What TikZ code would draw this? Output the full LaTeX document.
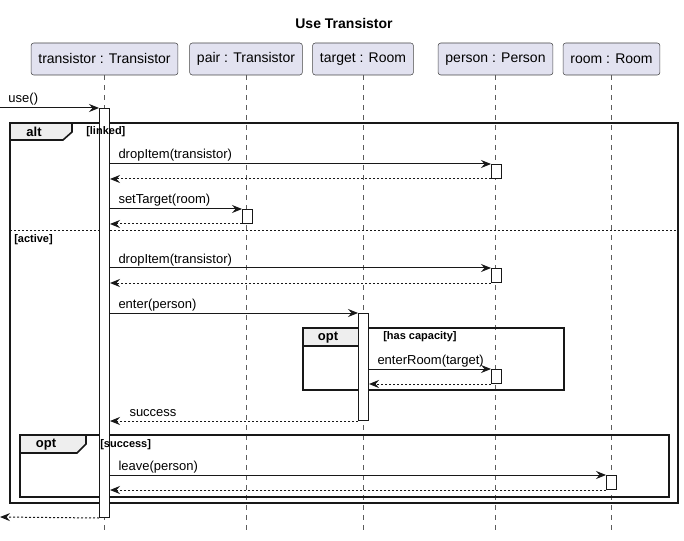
\documentclass[tikz,border=0pt]{standalone}
\usepackage{fontspec}
\setmainfont{Liberation Sans}
\usetikzlibrary{arrows.meta}
\definecolor{partfill}{HTML}{E2E2F0}
\definecolor{tabfill}{HTML}{EEEEEE}
\definecolor{ink}{HTML}{181818}

\begin{document}
\begin{tikzpicture}[x=0.75pt, y=-0.75pt, >={Stealth[length=7.5pt,width=6pt,inset=2.6pt]},
    part/.style={draw=ink!80, fill=partfill, rounded corners=2pt, minimum height=24pt, inner xsep=5.5pt, font=\fontsize{10.5}{12}\selectfont},
    lifeline/.style={draw=ink!70, line width=0.5pt, dash pattern=on 3.75pt off 3.75pt},
    act/.style={draw=ink, fill=white, line width=0.75pt, inner sep=0pt, minimum width=7.5pt, minimum height=10.5pt, anchor=north west},
    call/.style={->, draw=ink, line width=0.75pt},
    reply/.style={->, draw=ink, line width=0.75pt, dash pattern=on 1.5pt off 1.5pt},
    msg/.style={font=\fontsize{9.75}{11}\selectfont, anchor=base west, inner sep=0pt, yshift=3.75pt},
    frame/.style={draw=ink, line width=1.2pt},
    tab/.style={draw=ink, fill=tabfill, line width=1.2pt},
    divider/.style={draw=ink, line width=0.75pt, dash pattern=on 1.5pt off 1.5pt},
    tablabel/.style={font=\bfseries\fontsize{9.75}{11}\selectfont, inner sep=0pt},
    guard/.style={font=\bfseries\fontsize{8.25}{10}\selectfont, anchor=west, inner sep=0pt}]
    \useasboundingbox (0,0) rectangle (684,541);
    \node[font=\bfseries\fontsize{10.5}{12}\selectfont] (title) at (344,24) {Use Transistor};
    \node[part] (tr) at (104.5,59) {transistor : Transistor};
    \node[part] (pa) at (246,59) {pair : Transistor};
    \node[part] (tg) at (363,59) {target : Room};
    \node[part] (pe) at (495.5,59) {person : Person};
    \node[part] (ro) at (611.5,59) {room : Room};
    \foreach \p in {tr,pa,tg,pe,ro}
        \draw[lifeline] (\p.south) -- (\p.south |- 0,530);
    \draw[frame] (10,123) rectangle (678,503);
    \filldraw[tab] (10,123) -- (72,123) -- (72,132) -- (63,140) -- (10,140) -- cycle;
    \node[tablabel] (alt) at (34,132) {alt};
    \draw[divider] (10,231) -- (678,231);
    \draw[frame] (303,328) rectangle (564,390);
    \filldraw[tab] (303,328) -- (368,328) -- (368,337) -- (359,346) -- (303,346) -- cycle;
    \node[tablabel] (opt1) at (328,338) {opt};
    \draw[frame] (20,435) rectangle (669,497);
    \filldraw[tab] (20,435) -- (86,435) -- (86,444) -- (77,453) -- (20,453) -- cycle;
    \node[tablabel] (opt2) at (46,445) {opt};
    \node[act, minimum height=306.75pt] (trA) at (99,108) {};
    \node[act, minimum height=80.25pt] (tgA) at (358,313) {};
    \node[act] (pe1) at (491,164) {};
    \node[act] (pa1) at (242,209) {};
    \node[act] (pe2) at (491,268) {};
    \node[act] (pe3) at (491,369) {};
    \node[act] (ro1) at (606,475) {};
    \node[guard] (linked) at (86,132) {[linked]};
    \node[guard] (active) at (14,240) {[active]};
    \node[guard] (capacity) at (383,337) {[has capacity]};
    \node[guard] (success) at (100,445) {[success]};
    \coordinate (in) at (0,108);
    \coordinate (out) at (0,517);
    \draw[call] (in) -- (trA.north west) node[msg, pos=0, xshift=6pt] {use()};
    \draw[call] (trA.east |- pe1.north west) -- (pe1.north west) node[msg, pos=0, xshift=6pt] {dropItem(transistor)};
    \draw[reply] (pe1.south west) -- (trA.east |- pe1.south west);
    \draw[call] (trA.east |- pa1.north west) -- (pa1.north west) node[msg, pos=0, xshift=6pt] {setTarget(room)};
    \draw[reply] (pa1.south west) -- (trA.east |- pa1.south west);
    \draw[call] (trA.east |- pe2.north west) -- (pe2.north west) node[msg, pos=0, xshift=6pt] {dropItem(transistor)};
    \draw[reply] (pe2.south west) -- (trA.east |- pe2.south west);
    \draw[call] (trA.east |- tgA.north west) -- (tgA.north west) node[msg, pos=0, xshift=6pt] {enter(person)};
    \draw[call] (tgA.east |- pe3.north west) -- (pe3.north west) node[msg, pos=0, xshift=6pt] {enterRoom(target)};
    \draw[reply] (pe3.south west) -- (tgA.east |- pe3.south west);
    \draw[reply] (tgA.south west) -- (trA.east |- tgA.south west) node[msg, pos=1, xshift=14.25pt] {success};
    \draw[call] (trA.east |- ro1.north west) -- (ro1.north west) node[msg, pos=0, xshift=6pt] {leave(person)};
    \draw[reply] (ro1.south west) -- (trA.east |- ro1.south west);
    \draw[reply] (trA.south west) -- (out);
\end{tikzpicture}
\end{document}
